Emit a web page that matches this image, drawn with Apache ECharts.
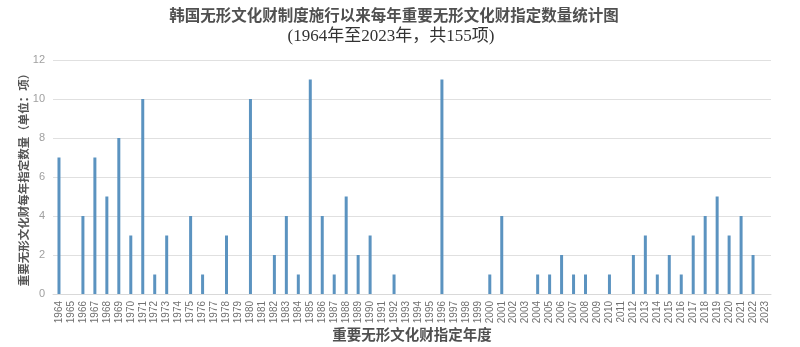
<!DOCTYPE html>
<html>
<head>
<meta charset="utf-8">
<script src="https://cdn.jsdelivr.net/npm/echarts@6/dist/echarts.min.js"></script>
<style>
  html, body { margin: 0; padding: 0; background: #fff; }
  #chart { width: 800px; height: 347px; }
</style>
</head>
<body>
<div id="chart"></div>
<script>
// Designation years, 1964 to 2023
const years = [];
for (let y = 1964; y <= 2023; y++) years.push(String(y));

// Number of important intangible cultural properties designated each year
const counts = [
  7, 0, 4, 7, 5, 8, 3, 10, 1, 3,   // 1964-1973
  0, 4, 1, 0, 3, 0, 10, 0, 2, 4,   // 1974-1983
  1, 11, 4, 1, 5, 2, 3, 0, 1, 0,   // 1984-1993
  0, 0, 11, 0, 0, 0, 1, 4, 0, 0,   // 1994-2003
  1, 1, 2, 1, 1, 0, 1, 0, 2, 3,    // 2004-2013
  1, 2, 1, 3, 4, 5, 3, 4, 2, 0     // 2014-2023
];

const yTicks = [0, 2, 4, 6, 8, 10, 12];

const titleText = '韩国无形文化财制度施行以来每年重要无形文化财指定数量统计图';
const subtitleText = '(1964年至2023年，共155项)';
const yName = '重要无形文化财每年指定数量（单位：项）';
const xName = '重要无形文化财指定年度';

const serif = '"Liberation Serif", "Noto Sans CJK SC", serif';
const cjk = '"Noto Sans CJK SC", sans-serif';

const chart = echarts.init(document.getElementById('chart'), null, { renderer: 'canvas' });
chart.setOption({
  animation: false,
  backgroundColor: '#ffffff',
  title: [
    {
      text: titleText,
      left: 394,
      textAlign: 'center',
      top: 7,
      padding: 0,
      textStyle: { fontFamily: cjk, fontSize: 15.5, fontWeight: 'bold', color: '#505050' }
    },
    {
      text: subtitleText,
      left: 391,
      textAlign: 'center',
      top: 28,
      padding: 0,
      textStyle: { fontFamily: serif, fontSize: 17, fontWeight: 'normal', color: '#333' }
    }
  ],
  grid: { left: 53, right: 29, top: 60, bottom: 53, containLabel: false, outerBoundsMode: 'none' },
  xAxis: {
    type: 'category',
    data: years,
    name: xName,
    nameLocation: 'middle',
    nameGap: 33,
    nameMoveOverlap: false,
    nameTextStyle: { fontFamily: cjk, fontSize: 14.5, fontWeight: 'bold', color: '#505050' },
    axisLine: { lineStyle: { color: '#d9d9d9' } },
    axisTick: { show: false },
    axisLabel: {
      interval: 0,
      rotate: 90,
      fontFamily: '"Liberation Sans", sans-serif',
      fontSize: 10,
      color: '#707070',
      margin: 7
    }
  },
  yAxis: {
    type: 'value',
    min: 0,
    max: yTicks[yTicks.length - 1],
    interval: yTicks[1] - yTicks[0],
    name: yName,
    nameLocation: 'middle',
    nameGap: 24,
    nameRotate: 90,
    nameMoveOverlap: false,
    nameTextStyle: { fontFamily: cjk, fontSize: 11.5, fontWeight: 'bold', color: '#555', padding: [0, 0, 0, 0] },
    axisLine: { show: false },
    axisTick: { show: false },
    axisLabel: {
      fontFamily: '"Liberation Sans", sans-serif',
      fontSize: 11,
      color: '#a0a0a0',
      margin: 8
    },
    splitLine: { lineStyle: { color: '#e0e0e0', width: 1 } }
  },
  series: [{
    type: 'bar',
    data: counts,
    barWidth: 3,
    itemStyle: { color: '#5b93c0' }
  }]
});
</script>
</body>
</html>
